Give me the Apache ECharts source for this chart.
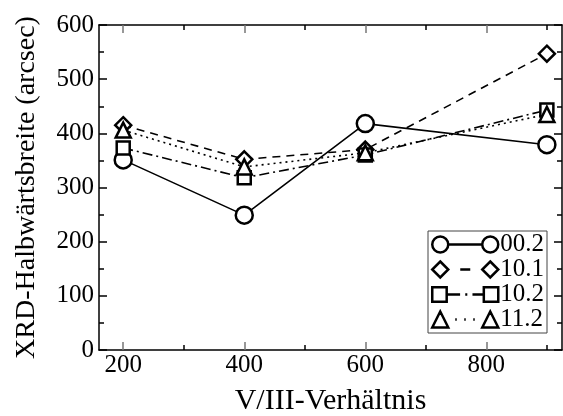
<!DOCTYPE html>
<html>
<head>
<meta charset="utf-8">
<script src="https://cdn.jsdelivr.net/npm/echarts@6/dist/echarts.min.js"></script>
<style>
  html, body { margin: 0; padding: 0; background: #fff; }
  #chart { width: 563px; height: 416px; }
</style>
</head>
<body>
<div id="chart"></div>
<script>
// V/III ratio on the x axis
const ratios = [200, 400, 600, 900];
// XRD half widths (arcsec) per reflection
const refl002 = [351, 249, 418, 379];
const refl101 = [415, 352, 370, 547];
const refl102 = [373, 318, 360, 443];
const refl112 = [406, 338, 364, 435];

const xMajor = [200, 400, 600, 800];
const xMinor = [300, 500, 700, 900];

const FONT = '"Liberation Serif", "Times New Roman", Times, serif';

function pairs(ys) {
  return ratios.map((x, i) => [x, ys[i]]);
}

// legend icons: symbol - line style - symbol, 66 x 16
const circ = (x) => 'M' + x + ',8 A8,8 0 1,1 ' + (x + 16) + ',8 A8,8 0 1,1 ' + x + ',8 Z ';
const diam = (x) => 'M' + (x + 8) + ',0 L' + (x + 16) + ',8 L' + (x + 8) + ',16 L' + x + ',8 Z ';
const sq = (x) => 'M' + (x + 1) + ',1 L' + (x + 15) + ',1 L' + (x + 15) + ',15 L' + (x + 1) + ',15 Z ';
const tri = (x) => 'M' + (x + 8) + ',0 L' + (x + 16) + ',16 L' + x + ',16 Z ';

const icons = {
  '00.2': 'path://' + circ(0) + 'M16,8 L50,8 ' + circ(50),
  '10.1': 'path://' + diam(0) + 'M28,8 L38,8 ' + diam(50),
  '10.2': 'path://' + sq(0) + 'M16,8 L28,8 M33,8 L35,8 M40,8 L50,8 ' + sq(50),
  '11.2': 'path://' + tri(0) + 'M23,8 L24.5,8 M32,8 L33.5,8 M41,8 L42.5,8 ' + tri(50)
};

function line(name, ys, symbol, size, dash) {
  return {
    name: name,
    type: 'line',
    data: pairs(ys),
    symbol: symbol,
    symbolSize: size,
    lineStyle: { color: '#000', width: 1.6, type: dash },
    itemStyle: { color: '#fff', borderColor: '#000', borderWidth: 2.5 },
    emphasis: { disabled: true },
    animation: false
  };
}

function xAxis(pos, ticks, len, color, labels) {
  return {
    type: 'value',
    position: pos,
    min: 160,
    max: 925,
    axisLine: { show: labels, lineStyle: { color: '#000', width: 1.5 } },
    axisTick: { show: true, inside: true, length: len, customValues: ticks,
      lineStyle: { color: color, width: 1.5 } },
    axisLabel: { show: labels && pos === 'bottom', customValues: xMajor,
      color: '#000', fontFamily: FONT, fontSize: 25, margin: 3 },
    splitLine: { show: false }
  };
}

const chart = echarts.init(document.getElementById('chart'), null, { renderer: 'canvas' });

chart.setOption({
  animation: false,
  backgroundColor: '#fff',
  grid: { left: 99, right: 1, top: 25, bottom: 66, outerBoundsMode: 'none' },
  legend: {
    right: 16,
    top: 231,
    orient: 'vertical',
    itemWidth: 66,
    itemHeight: 16,
    itemGap: 0,
    padding: [1, 3, 1, 3],
    borderColor: '#444',
    borderWidth: 1,
    backgroundColor: '#fff',
    selectedMode: false,
    itemStyle: { color: '#fff', borderColor: '#000', borderWidth: 2.5 },
    textStyle: { color: '#000', fontFamily: FONT, fontSize: 25, lineHeight: 24, padding: [0, 0, 0, -3] },
    data: ['00.2', '10.1', '10.2', '11.2'].map(n => ({ name: n, icon: icons[n] }))
  },
  xAxis: [
    Object.assign(xAxis('bottom', xMajor, 8, '#777', true), {
      name: 'V/III-Verhältnis',
      nameLocation: 'middle',
      nameGap: 36,
      nameTextStyle: { color: '#000', fontFamily: FONT, fontSize: 30 }
    }),
    xAxis('bottom', xMinor, 5, '#000', false),
    xAxis('top', xMajor, 8, '#777', true),
    xAxis('top', xMinor, 5, '#000', false)
  ],
  yAxis: [
    {
      type: 'value',
      min: 0,
      max: 600,
      interval: 100,
      name: 'XRD-Halbwärtsbreite (arcsec)',
      nameLocation: 'middle',
      nameGap: 58,
      nameTextStyle: { color: '#000', fontFamily: FONT, fontSize: 28 },
      axisLine: { show: true, lineStyle: { color: '#000', width: 1.5 } },
      axisTick: { inside: true, length: 8, lineStyle: { color: '#000', width: 1.5 } },
      minorTick: { show: true, splitNumber: 2, length: 5, lineStyle: { color: '#000', width: 1.5 } },
      axisLabel: { color: '#000', fontFamily: FONT, fontSize: 25, margin: 5 },
      splitLine: { show: false },
      minorSplitLine: { show: false }
    },
    {
      type: 'value',
      position: 'right',
      min: 0,
      max: 600,
      interval: 100,
      axisLine: { show: true, lineStyle: { color: '#000', width: 1.5 } },
      axisTick: { inside: true, length: 8, lineStyle: { color: '#000', width: 1.5 } },
      minorTick: { show: true, splitNumber: 2, length: 5, lineStyle: { color: '#000', width: 1.5 } },
      axisLabel: { show: false },
      splitLine: { show: false },
      minorSplitLine: { show: false }
    }
  ],
  series: [
    line('00.2', refl002, 'circle', 17, 'solid'),
    line('10.1', refl101, 'diamond', 16, [8, 6]),
    line('10.2', refl102, 'rect', 13, [10, 4, 2, 4]),
    line('11.2', refl112, 'triangle', 15, [2, 4])
  ]
});
</script>
</body>
</html>
